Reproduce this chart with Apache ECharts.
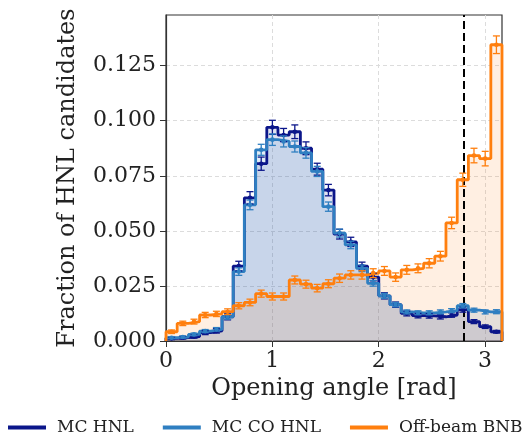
<!DOCTYPE html>
<html>
<head>
<meta charset="utf-8">
<script src="https://cdn.jsdelivr.net/npm/echarts@6/dist/echarts.min.js"></script>
<style>
html,body{margin:0;padding:0;background:#fff;}
#chart{width:531px;height:435px;}
</style>
</head>
<body>
<div id="chart"></div>
<script>
// ---- data ----
const binEdges = [0.000,0.105,0.211,0.316,0.421,0.527,0.632,0.737,0.843,0.948,1.053,1.159,1.264,1.369,1.475,1.580,1.685,1.791,1.896,2.001,2.107,2.212,2.317,2.423,2.528,2.633,2.739,2.844,2.949,3.055,3.160];
const mcHNL = [0.0012,0.0015,0.0020,0.0038,0.0046,0.0110,0.0340,0.0650,0.0805,0.0970,0.0935,0.0950,0.0875,0.0780,0.0685,0.0485,0.0450,0.0340,0.0290,0.0205,0.0165,0.0125,0.0115,0.0114,0.0110,0.0118,0.0142,0.0088,0.0065,0.0042];
const mcHNLErr = [0.0006,0.0006,0.0007,0.0009,0.0010,0.0014,0.0022,0.0028,0.0030,0.0032,0.0030,0.0031,0.0029,0.0027,0.0026,0.0022,0.0021,0.0018,0.0017,0.0014,0.0012,0.0011,0.0010,0.0010,0.0010,0.0010,0.0011,0.0009,0.0008,0.0006];
const mcCOHNL = [0.0015,0.0018,0.0030,0.0045,0.0053,0.0110,0.0315,0.0618,0.0868,0.0914,0.0906,0.0883,0.0854,0.0770,0.0610,0.0490,0.0436,0.0330,0.0262,0.0205,0.0165,0.0132,0.0128,0.0128,0.0132,0.0138,0.0160,0.0140,0.0132,0.0133];
const mcCOHNLErr = [0.0005,0.0005,0.0006,0.0007,0.0008,0.0011,0.0017,0.0022,0.0025,0.0026,0.0025,0.0025,0.0024,0.0023,0.0021,0.0018,0.0017,0.0015,0.0013,0.0011,0.0010,0.0009,0.0009,0.0009,0.0009,0.0009,0.0010,0.0009,0.0009,0.0009];
const offBeam = [0.0042,0.0080,0.0088,0.0118,0.0123,0.0133,0.0160,0.0175,0.0215,0.0202,0.0202,0.0277,0.0258,0.0240,0.0260,0.0285,0.0300,0.0300,0.0308,0.0318,0.0290,0.0323,0.0330,0.0353,0.0385,0.0536,0.0732,0.0842,0.0828,0.1345];
const offBeamErr = [0.0008,0.0010,0.0011,0.0012,0.0012,0.0013,0.0014,0.0015,0.0016,0.0016,0.0016,0.0018,0.0018,0.0017,0.0018,0.0019,0.0019,0.0019,0.0020,0.0020,0.0019,0.0020,0.0020,0.0021,0.0022,0.0026,0.0030,0.0033,0.0033,0.0040];
const cutValue = 2.8;
const xTicks = [0, 1, 2, 3];
const yTicks = [0, 0.025, 0.05, 0.075, 0.1, 0.125];
const seriesNames = ['MC HNL', 'MC CO HNL', 'Off-beam BNB'];
const colors = ['#0b168a', '#2f7fc1', '#ff7f0e'];

// ---- helpers ----
function stepData(vals) {
  const pts = [[binEdges[0], 0]];
  for (let k = 0; k < vals.length; k++) pts.push([binEdges[k], vals[k]]);
  pts.push([binEdges[vals.length], vals[vals.length - 1]]);
  pts.push([binEdges[vals.length], 0]);
  return pts;
}
function errData(vals, errs) {
  return vals.map((v, k) => [(binEdges[k] + binEdges[k + 1]) / 2, v, errs[k]]);
}
function errSeries(name, vals, errs, color) {
  return {
    name: name,
    type: 'custom',
    data: errData(vals, errs),
    z: 5,
    renderItem: function (params, api) {
      const x = api.value(0), v = api.value(1), e = api.value(2);
      const pTop = api.coord([x, v + e]);
      const pBot = api.coord([x, v - e]);
      const pMid = api.coord([x, v]);
      const cw = 3.5;
      const st = {stroke: color, lineWidth: 1.3, fill: null};
      return {
        type: 'group',
        children: [
          {type: 'line', shape: {x1: pTop[0], y1: pTop[1], x2: pBot[0], y2: pBot[1]}, style: st},
          {type: 'line', shape: {x1: pTop[0] - cw, y1: pTop[1], x2: pTop[0] + cw, y2: pTop[1]}, style: st},
          {type: 'line', shape: {x1: pBot[0] - cw, y1: pBot[1], x2: pBot[0] + cw, y2: pBot[1]}, style: st},
          {type: 'circle', shape: {cx: pMid[0], cy: pMid[1], r: 2.3}, style: {fill: color}}
        ]
      };
    }
  };
}
function stepSeries(name, vals, color, alpha) {
  return {
    name: name,
    type: 'line',
    step: 'end',
    data: stepData(vals),
    symbol: 'none',
    lineStyle: {color: color, width: 2.8},
    itemStyle: {color: color},
    areaStyle: {color: color, opacity: alpha},
    z: 3
  };
}

const serif = 'DejaVu Serif';
const chart = echarts.init(document.getElementById('chart'), null, {renderer: 'canvas'});
const s0 = stepSeries(seriesNames[0], mcHNL, colors[0], 0.12);
const s1 = stepSeries(seriesNames[1], mcCOHNL, colors[1], 0.14);
const s2 = stepSeries(seriesNames[2], offBeam, colors[2], 0.12);
s2.markLine = {
  silent: true,
  symbol: 'none',
  label: {show: false},
  lineStyle: {color: '#000', type: [8, 4], width: 2},
  data: [{xAxis: cutValue}]
};
chart.setOption({
  animation: false,
  backgroundColor: '#fff',
  grid: {left: 166, right: 29, top: 15, bottom: 94, show: true, borderColor: '#333', borderWidth: 1.2, backgroundColor: 'transparent'},
  legend: {
    top: 414,
    left: 3,
    itemGap: 29,
    itemWidth: 38,
    itemHeight: 4,
    textStyle: {fontFamily: serif, fontSize: 17, color: '#222', padding: [0, 0, 0, 6]},
    data: seriesNames.map((n, i) => ({name: n, icon: 'rect', itemStyle: {color: colors[i]}}))
  },
  xAxis: {
    type: 'value',
    min: 0,
    max: 3.16,
    interval: 1,
    name: 'Opening angle [rad]',
    nameLocation: 'middle',
    nameGap: 34,
    nameTextStyle: {fontFamily: serif, fontSize: 24, color: '#222'},
    axisLine: {show: true, onZero: false, lineStyle: {color: '#333', width: 1.2}},
    axisTick: {show: true, length: 6, inside: false, customValues: xTicks, lineStyle: {color: '#333'}},
    axisLabel: {fontFamily: serif, fontSize: 22, color: '#222', margin: 9, customValues: xTicks},
    splitLine: {show: true, lineStyle: {color: '#dcdcdc', type: [4, 3], width: 1}}
  },
  yAxis: {
    type: 'value',
    min: 0,
    max: 0.148,
    interval: 0.025,
    name: 'Fraction of HNL candidates',
    nameLocation: 'middle',
    nameGap: 86,
    nameTextStyle: {fontFamily: serif, fontSize: 24, color: '#222'},
    axisLine: {show: true, onZero: false, lineStyle: {color: '#333', width: 1.2}},
    axisTick: {show: true, length: 6, inside: false, customValues: yTicks, lineStyle: {color: '#333'}},
    axisLabel: {fontFamily: serif, fontSize: 22, color: '#222', margin: 10, customValues: yTicks, formatter: v => v.toFixed(3)},
    splitLine: {show: true, lineStyle: {color: '#dcdcdc', type: [4, 3], width: 1}}
  },
  series: [
    s0, s1, s2,
    errSeries(seriesNames[0], mcHNL, mcHNLErr, colors[0]),
    errSeries(seriesNames[1], mcCOHNL, mcCOHNLErr, colors[1]),
    errSeries(seriesNames[2], offBeam, offBeamErr, colors[2])
  ]
});
</script>
</body>
</html>
